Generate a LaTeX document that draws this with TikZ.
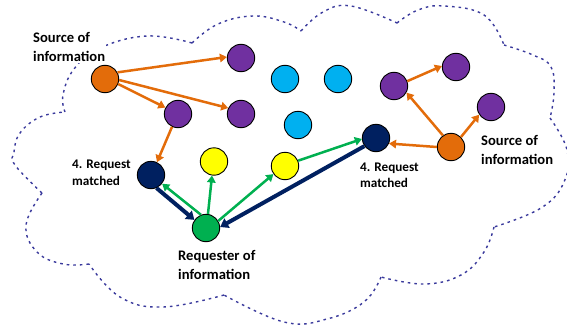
\documentclass[tikz,border=0pt]{standalone}
\usepackage{fontspec}
\setmainfont{Carlito}
\usetikzlibrary{arrows.meta}
\definecolor{cOrange}{HTML}{E36C0A}
\definecolor{cPurple}{HTML}{7030A0}
\definecolor{cCyan}{HTML}{00B0F0}
\definecolor{cNavy}{HTML}{002060}
\definecolor{cGreen}{HTML}{00B050}
\definecolor{cYellow}{HTML}{FFFF00}
\definecolor{cCloud}{HTML}{3A3A9C}
\tikzset{
 x=1pt,y=-1pt,
 dot/.style={circle,draw=black,line width=.9pt,minimum size=27.4pt,inner sep=0pt,fill=#1},
 lab/.style={font=\fontsize{14.6}{19}\selectfont\bfseries,align=left,anchor=west,inner sep=1pt,text=black},
 smalllab/.style={lab,font=\fontsize{13.2}{16.5}\selectfont\bfseries},
 cloudline/.style={draw=cCloud,line width=1.4pt,dash pattern=on 2.6pt off 4pt},
 oarrow/.style={draw=cOrange,line width=2.5pt,-{Triangle[length=7pt,width=8.5pt]}},
 garrow/.style={draw=cGreen,line width=2.5pt,-{Triangle[length=7pt,width=8.5pt]}},
 narrow/.style={draw=cNavy,line width=4pt,-{Triangle[length=8pt,width=10.5pt]}},
}
\begin{document}
\begin{tikzpicture}
\useasboundingbox (0,0) rectangle (567,329);
% cloud outline, one lobe at a time
\draw[cloudline] plot[smooth,tension=.7] coordinates {(65,112) (63,95) (74,69) (100,48) (147,36) (192,43)};
\draw[cloudline] plot[smooth,tension=.7] coordinates {(192,43) (218,24) (253,16) (284,22) (301,31)};
\draw[cloudline] plot[smooth,tension=.7] coordinates {(301,31) (323,12) (351,6) (397,23)};
\draw[cloudline] plot[smooth,tension=.7] coordinates {(397,23) (418,10) (444,6) (484,15) (504,45)};
\draw[cloudline] plot[smooth,tension=.7] coordinates {(504,45) (533,55) (551,67) (554,93) (550,118)};
\draw[cloudline] plot[smooth,tension=.7] coordinates {(550,118) (567,150) (564,182) (541,208) (494,227)};
\draw[cloudline] plot[smooth,tension=.7] coordinates {(494,227) (484,252) (461,275) (424,284) (381,277)};
\draw[cloudline] plot[smooth,tension=.7] coordinates {(381,277) (364,302) (327,319) (284,322) (224,295)};
\draw[cloudline] plot[smooth,tension=.7] coordinates {(224,295) (163,307) (120,297) (89,264)};
\draw[cloudline] plot[smooth,tension=.7] coordinates {(89,264) (63,264) (37,252) (26,225) (42,193)};
\draw[cloudline] plot[smooth,tension=.7] coordinates {(42,193) (15,165) (14,152) (20,133) (40,117) (65,112)};
% labels
\node[lab,fill=white] (srcL) at (32,47) {Source of\\information};
\node[lab] (srcR) at (480,150) {Source of\\information};
\node[smalllab] (reqL) at (71,173) {4. Request\\matched};
\node[smalllab] (reqR) at (359,175.5) {4. Request\\matched};
\node[lab] (reqr) at (177,264.5) {Requester of\\information};
% nodes
\node[dot=cOrange] (o1) at (105,79) {};
\node[dot=cOrange] (o2) at (451,147) {};
\node[dot=cPurple] (p1) at (241,58) {};
\node[dot=cPurple] (p2) at (241,114) {};
\node[dot=cPurple] (p3) at (178,114) {};
\node[dot=cPurple] (p4) at (394,86) {};
\node[dot=cPurple] (p5) at (456,67) {};
\node[dot=cPurple] (p6) at (491,107) {};
\node[dot=cCyan] (c1) at (285,79) {};
\node[dot=cCyan] (c2) at (338,79) {};
\node[dot=cCyan] (c3) at (298,125) {};
\node[dot=cNavy] (n1) at (151,175) {};
\node[dot=cNavy] (n2) at (376,138) {};
\node[dot=cYellow] (y1) at (214,161.5) {};
\node[dot=cYellow] (y2) at (285,166) {};
\node[dot=cGreen] (g) at (206,228) {};
% connectors
\draw[oarrow] (o1.28) -- (p1.176);
\draw[oarrow] (o1.-4) -- (p2.155);
\draw[oarrow] (o1.-21) -- (p3.153);
\draw[oarrow] (p3.-115) -- (n1.65);
\draw[oarrow] (o2.180) -- (n2.-23);
\draw[oarrow] (o2.125) -- (p4.-28);
\draw[oarrow] (o2.45) -- (p6.213);
\draw[oarrow] (p4.20) -- (p5.176);
\draw[garrow] (g.111) -- (n1.-38);
\draw[garrow] (g.82) -- (y1.262);
\draw[garrow] (g.30) -- (y2.215);
\draw[garrow] (y2.22) -- (n2.184);
\draw[narrow] (n1.-67) -- (g.145);
\draw[narrow] (n2.215) -- (g.4);
\end{tikzpicture}
\end{document}
